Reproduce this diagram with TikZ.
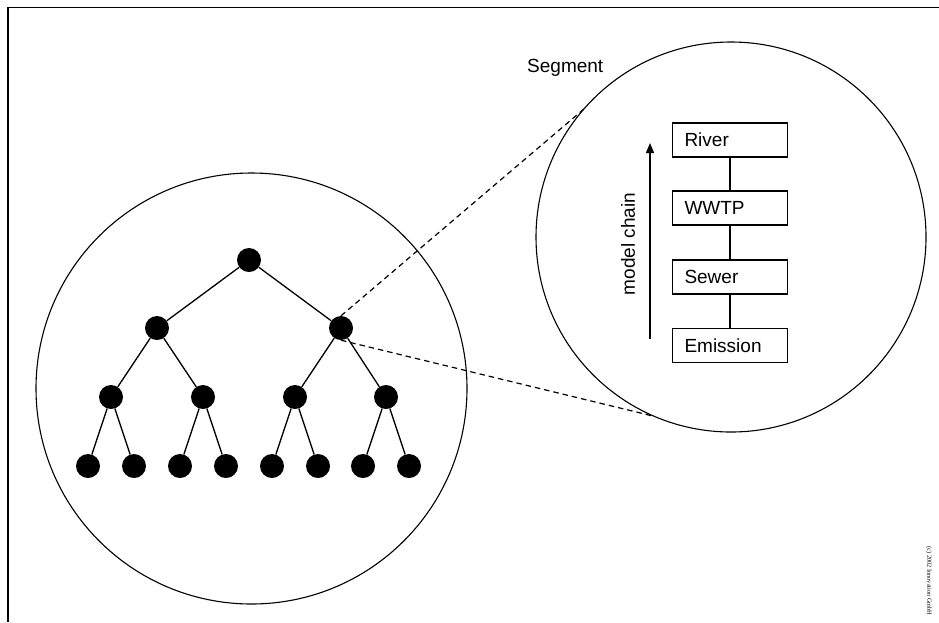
\documentclass[tikz,border=0pt]{standalone}
\usepackage{fontspec}
\setmainfont{Liberation Sans}
\newfontfamily\notefont{Liberation Serif}
\usetikzlibrary{arrows.meta}
\usetikzlibrary{positioning}

\begin{document}
\begin{tikzpicture}[x=1pt,y=-1pt,
		dot/.style={circle,fill=black,inner sep=0pt,minimum size=24pt},
		ring/.style={circle,draw,line width=1.1pt,inner sep=0pt,outer sep=0pt},
		modbox/.style={draw,line width=1.3pt,minimum height=34pt,text width=91pt,
			inner xsep=12pt,inner ysep=0pt,align=left,font=\fontsize{19}{23}\selectfont},
		lbl/.style={inner sep=0pt,font=\fontsize{19}{23}\selectfont},
		zoomline/.style={line width=1.2pt,dash pattern=on 5.5pt off 4pt}]
		\useasboundingbox (0,0) rectangle (939,622);
		% open frame
		\coordinate (ftr) at (939,7.5);
		\coordinate (ftl) at (8,7.5);
		\coordinate (fbl) at (8,622);
		\draw[line width=1.4pt] (ftr)--(ftl)--(fbl);
		% the network and the zoomed segment
		\node[ring,minimum size=431pt] (net) at (251.5,388.5){};
		\node[ring,minimum size=390pt] (seg) at (731,237){};
		\node[lbl,anchor=west] (seglbl) at (527,67.5){Segment};
		% tree
		\node[dot] (t) at (249,260){};
		\node[dot] (tl) at (157,328){};
		\node[dot] (tr) at (341,328){};
		\node[dot] (tll) at (111,397){};
		\node[dot] (tlr) at (203,397){};
		\node[dot] (trl) at (295,397){};
		\node[dot] (trr) at (386,397){};
		\node[dot] (l1) at (88,466){};
		\node[dot] (l2) at (134,466){};
		\node[dot] (l3) at (180,466){};
		\node[dot] (l4) at (226,466){};
		\node[dot] (l5) at (272,466){};
		\node[dot] (l6) at (318,466){};
		\node[dot] (l7) at (363,466){};
		\node[dot] (l8) at (409,466){};
		\begin{scope}[line width=1.3pt]
			\draw (t)--(tl);
			\draw (t)--(tr);
			\draw (tl)--(tll);
			\draw (tl)--(tlr);
			\draw (tr)--(trl);
			\draw (tr)--(trr);
			\draw (tll)--(l1);
			\draw (tll)--(l2);
			\draw (tlr)--(l3);
			\draw (tlr)--(l4);
			\draw (trl)--(l5);
			\draw (trl)--(l6);
			\draw (trr)--(l7);
			\draw (trr)--(l8);
		\end{scope}
		\draw[zoomline] (tr.north)--(seg.139.4);
		\draw[zoomline] (tr.south)--(seg.247.8);
		% model chain
		\node[modbox] (river) at (730,140){River};
		\node[modbox] (wwtp) at (730,208){WWTP};
		\node[modbox] (sewer) at (730,277){Sewer};
		\node[modbox] (emis) at (730,345.5){Emission};
		\draw[line width=1.3pt] (river)--(wwtp);
		\draw[line width=1.3pt] (wwtp)--(sewer);
		\draw[line width=1.3pt] (sewer)--(emis);
		\coordinate (chainlo) at (650,339);
		\coordinate (chainhi) at (650,143);
		\draw[line width=1.3pt,-{Triangle[length=10pt,width=8pt]}] (chainlo)--(chainhi);
		\node[lbl,rotate=90] (chainlbl) at (628,244){model chain};
		\node[inner sep=0pt,rotate=-90,font=\notefont\fontsize{6.3}{7}\selectfont] (note) at (929,581){(c) 2002 Innovation GmbH};
	\end{tikzpicture}
\end{document}
